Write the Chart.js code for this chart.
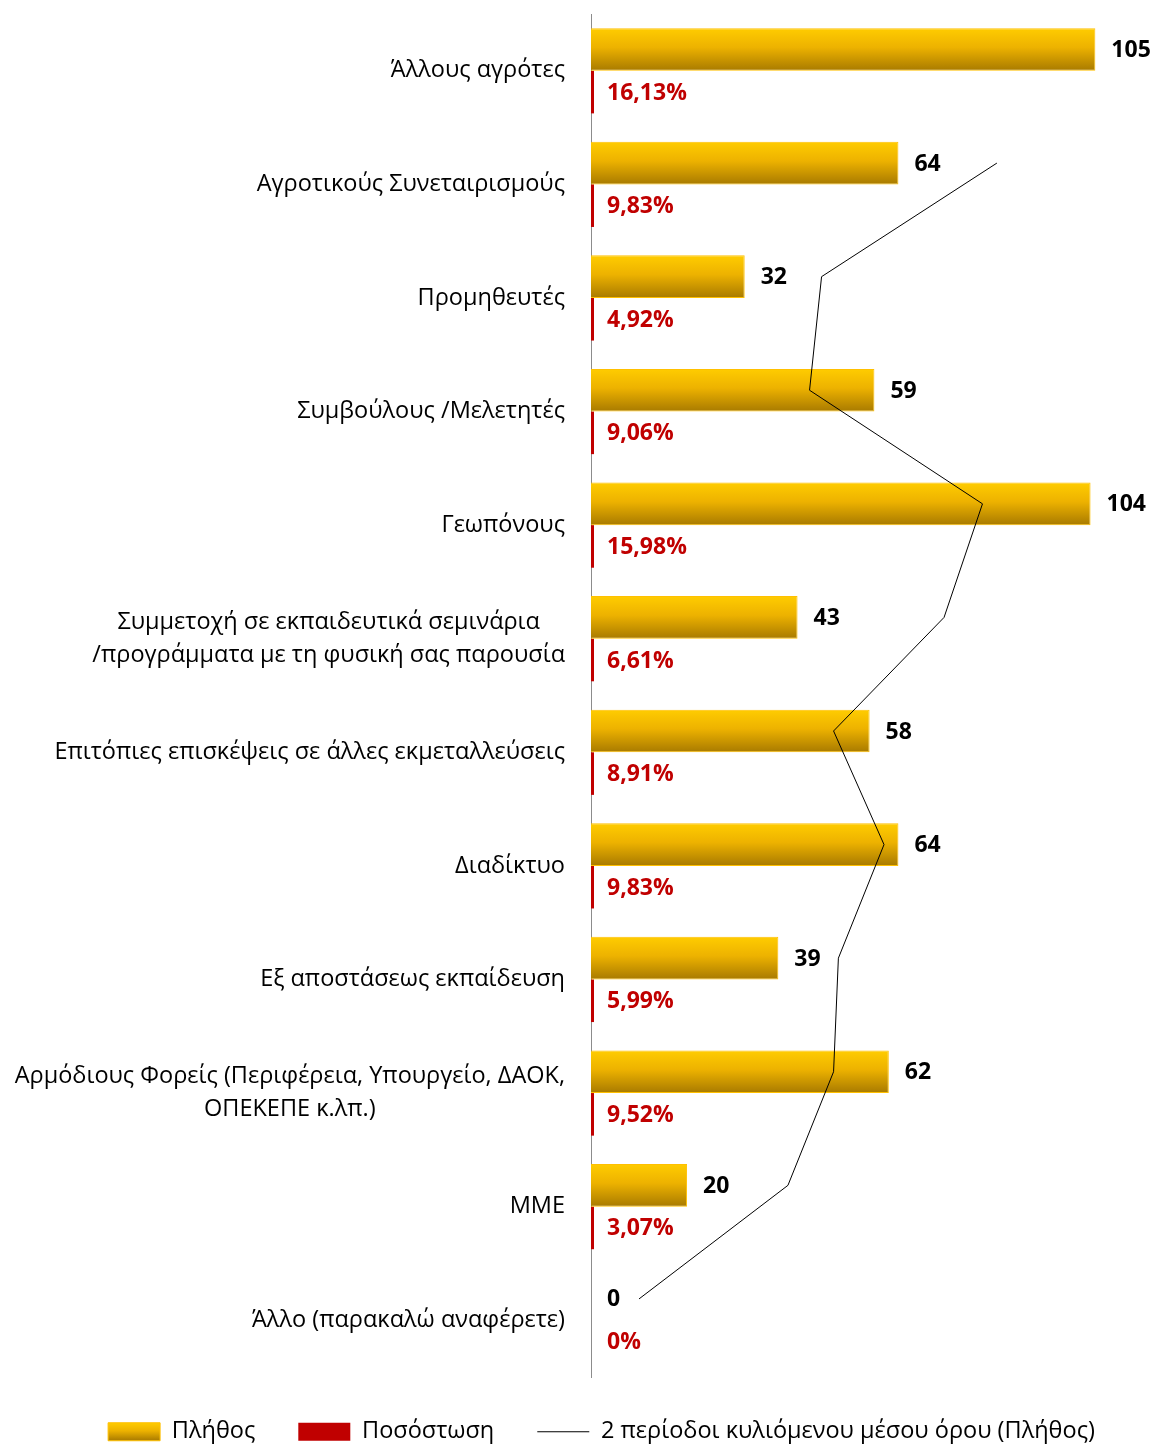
<!DOCTYPE html>
<html lang="el">
<head>
<meta charset="utf-8">
<title>Πηγές ενημέρωσης</title>
<script src="https://cdn.jsdelivr.net/npm/chart.js@4.4.1/dist/chart.umd.min.js"></script>
<style>
  html, body { margin: 0; padding: 0; background: #fff; }
  #wrap { width: 1156px; height: 1446px; }
</style>
</head>
<body>
<div id="wrap"><canvas id="chart"></canvas></div>
<script>
const categories = [
    'Άλλους αγρότες',
    'Αγροτικούς Συνεταιρισμούς',
    'Προμηθευτές',
    'Συμβούλους /Μελετητές',
    'Γεωπόνους',
    ['Συμμετοχή σε εκπαιδευτικά σεμινάρια', '/προγράμματα με τη φυσική σας παρουσία'],
    'Επιτόπιες επισκέψεις σε άλλες εκμεταλλεύσεις',
    'Διαδίκτυο',
    'Εξ αποστάσεως εκπαίδευση',
    ['Αρμόδιους Φορείς (Περιφέρεια, Υπουργείο, ΔΑΟΚ,', 'ΟΠΕΚΕΠΕ κ.λπ.)'],
    'ΜΜΕ',
    'Άλλο (παρακαλώ αναφέρετε)'
];
const counts = [105, 64, 32, 59, 104, 43, 58, 64, 39, 62, 20, 0];
const percents = [16.13, 9.83, 4.92, 9.06, 15.98, 6.61, 8.91, 9.83, 5.99, 9.52, 3.07, 0];
// 2 period moving average of the counts, starts at the 2nd category
const movingAvg = [null, 84.5, 48, 45.5, 81.5, 73.5, 50.5, 61, 51.5, 50.5, 41, 10];

const FONT = "'Open Sans', 'Noto Sans', sans-serif";
const CAT_PCT = 0.75;
const AXIS_X = 591;
const LEFT_PAD = 50;

const fmtPct = (v) => v === 0 ? '0%' : v.toFixed(2).replace('.', ',') + '%';

const goldGradient = (ctx, top, bottom) => {
    const g = ctx.createLinearGradient(0, top, 0, bottom);
    g.addColorStop(0, '#FFCC00');
    g.addColorStop(0.45, '#EDB200');
    g.addColorStop(1, '#A87A00');
    return g;
};

// gradient for each gold bar, taken from the category scale
const goldFill = (context) => {
    const chart = context.chart;
    const yScale = chart.scales.y;
    if (!yScale || context.dataIndex === undefined || !yScale.height) return '#EDB200';
    const band = yScale.height / categories.length;
    const center = yScale.getPixelForValue(context.dataIndex);
    return goldGradient(chart.ctx, center - band * CAT_PCT / 2, center);
};

// the line sits on the gold bar of each category (first of the two bars)
const linePoints = [];
movingAvg.forEach((v, i) => {
    if (v !== null) linePoints.push({ x: v, y: i - CAT_PCT / 4 });
});

const categoryLabels = {
    id: 'categoryLabels',
    afterDraw(chart) {
        const ctx = chart.ctx;
        const yScale = chart.scales.y;
        const right = chart.chartArea.left - 26;
        ctx.save();
        ctx.font = '23.5px ' + FONT;
        ctx.fillStyle = '#000';
        ctx.textAlign = 'center';
        ctx.textBaseline = 'middle';
        categories.forEach((label, i) => {
            const lines = Array.isArray(label) ? label : [label];
            const w = Math.max(...lines.map(l => ctx.measureText(l).width));
            const cx = right - w / 2;
            const cy = yScale.getPixelForValue(i);
            lines.forEach((l, k) => {
                ctx.fillText(l, cx, cy + (k - (lines.length - 1) / 2) * 33);
            });
        });
        ctx.restore();
    }
};

const valueLabels = {
    id: 'valueLabels',
    afterDatasetsDraw(chart) {
        const ctx = chart.ctx;
        const x0 = chart.scales.x.getPixelForValue(0);
        ctx.save();
        ctx.font = 'bold 23px ' + FONT;
        ctx.textAlign = 'left';
        ctx.textBaseline = 'middle';
        chart.getDatasetMeta(0).data.forEach((bar, i) => {
            ctx.fillStyle = '#000';
            ctx.fillText(String(counts[i]), bar.x + 16, bar.y + 1);
        });
        chart.getDatasetMeta(1).data.forEach((bar, i) => {
            ctx.fillStyle = '#C00000';
            ctx.fillText(fmtPct(percents[i]), x0 + 16, bar.y + 1);
        });
        ctx.restore();
    }
};

const legendGradient = {
    id: 'legendGradient',
    beforeDraw(chart) {
        const legend = chart.legend;
        if (!legend || !legend.legendItems || !legend.legendHitBoxes) return;
        legend.legendItems.forEach((item, k) => {
            if (item.datasetIndex !== 0) return;
            const hb = legend.legendHitBoxes[k];
            const cy = hb.top + 23.5 / 2;
            item.fillStyle = goldGradient(chart.ctx, cy - 9, cy + 9);
        });
    }
};

new Chart(document.getElementById('chart'), {
    type: 'bar',
    data: {
        labels: categories,
        datasets: [{
            label: 'Πλήθος',
            data: counts,
            backgroundColor: goldFill,
            borderColor: '#FFC000',
            borderWidth: 1,
            pointStyle: 'rect',
            order: 1,
        }, {
            label: 'Ποσόστωση',
            data: percents.map(p => p / 100),
            backgroundColor: (c) => percents[c.dataIndex] === 0 ? 'rgba(0,0,0,0)' : '#C00000',
            borderWidth: 0,
            minBarLength: 3,
            pointStyle: 'rect',
            order: 1,
        }, {
            type: 'line',
            label: '2 περίοδοι κυλιόμενου μέσου όρου (Πλήθος)',
            data: linePoints,
            parsing: false,
            indexAxis: 'y',
            borderColor: '#000',
            backgroundColor: '#000',
            borderWidth: 1,
            pointRadius: 0,
            pointStyle: 'line',
            tension: 0,
            fill: false,
            order: 0,
        }]
    },
    options: {
        indexAxis: 'y',
        responsive: true,
        maintainAspectRatio: false,
        animation: false,
        datasets: {
            bar: {
                categoryPercentage: CAT_PCT,
                barPercentage: 1,
            }
        },
        layout: {
            padding: { top: 14, right: 3, bottom: 0, left: LEFT_PAD }
        },
        scales: {
            x: {
                display: false,
                min: 0,
                max: 117,
            },
            y: {
                type: 'category',
                grid: { display: false },
                ticks: { display: false },
                border: { display: true, color: '#8C8C8C', width: 1 },
                afterFit: (scale) => { scale.width = AXIS_X - LEFT_PAD; },
            }
        },
        plugins: {
            tooltip: { enabled: false },
            legend: {
                position: 'bottom',
                maxHeight: 69,
                labels: {
                    usePointStyle: true,
                    pointStyleWidth: 52,
                    boxHeight: 18,
                    padding: 43,
                    color: '#000',
                    font: { family: FONT, size: 23.5 },
                    sort: (a, b) => a.datasetIndex - b.datasetIndex,
                }
            }
        }
    },
    plugins: [categoryLabels, valueLabels, legendGradient]
});
</script>
</body>
</html>
